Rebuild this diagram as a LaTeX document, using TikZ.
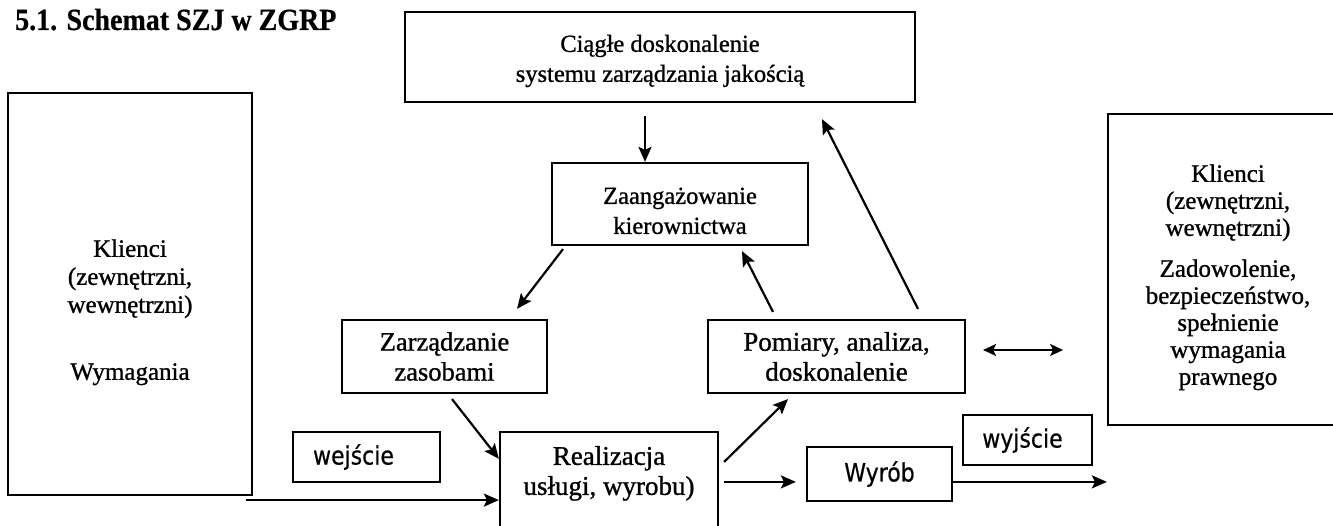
\documentclass[tikz,border=0pt]{standalone}
\usepackage{fontspec}
\setmainfont{Liberation Serif}[FakeBold=1]
\newfontfamily\titlef{Liberation Serif}[FakeBold=0.6]
\newfontfamily\sansf{DejaVu Sans}[FakeBold=0.6]
\usetikzlibrary{arrows.meta,calc}
\newcommand{\tallsans}[1]{\scalebox{1}[1.15]{#1}}
\begin{document}
\begin{tikzpicture}[x=1pt,y=-1pt,
  box/.style={draw, line width=2.2pt, inner sep=0pt, align=center, font=\fontsize{24.5}{30}\selectfont},
  sbox/.style={draw, line width=2.2pt, inner sep=0pt, font=\sansf\fontsize{22}{25}\selectfont},
  arr/.style={line width=2.2pt, -{Stealth[length=15pt,width=13pt,inset=3pt]}},
  darr/.style={line width=2.2pt, {Stealth[length=13pt,width=12pt,inset=3pt]}-{Stealth[length=13pt,width=12pt,inset=3pt]}}]
\useasboundingbox (0,0) rectangle (1333,526);
% title
\node[anchor=base west, inner sep=0pt, font=\titlef\fontsize{28}{30}\selectfont\bfseries] (title) at (15,30) {\scalebox{1}[1.1]{5.1. Schemat SZJ w ZGRP}};
% boxes
\node[box, minimum width=510pt, minimum height=90pt] (top) at (660,57)
  {\rule{0pt}{25pt}Ciągłe doskonalenie\\systemu zarządzania jakością};
\node[box, minimum width=244pt, minimum height=402pt, font=\fontsize{25}{28}\selectfont] (kl) at (130,294)
  {\rule{0pt}{54pt}Klienci\\(zewnętrzni,\\wewnętrzni)\\[39pt]Wymagania};
\node[box, minimum width=240pt, minimum height=311pt, font=\fontsize{25}{27}\selectfont] (rk) at (1228,269.5)
  {\rule{0pt}{33pt}Klienci\\(zewnętrzni,\\wewnętrzni)\\[14pt]Zadowolenie,\\bezpieczeństwo,\\spełnienie\\wymagania\\prawnego};
\node[box, minimum width=256pt, minimum height=82pt] (zaang) at (680,204)
  {\rule{0pt}{30pt}Zaangażowanie\\kierownictwa};
\node[box, minimum width=205pt, minimum height=73pt, font=\fontsize{26.5}{30}\selectfont] (zarz) at (444.5,356.5) {Zarządzanie\\zasobami};
\node[box, minimum width=257pt, minimum height=73pt, font=\fontsize{27}{30}\selectfont] (pom) at (836.5,356.5) {Pomiary, analiza,\\doskonalenie};
\node[box, minimum width=218pt, minimum height=100pt, font=\fontsize{27}{30}\selectfont] (real) at (609,482)
  {Realizacja\\usługi, wyrobu)\rule[-23pt]{0pt}{23pt}};
\node[sbox, minimum width=147pt, minimum height=50pt] (wej) at (366.5,457) {\tallsans{wejście}\hspace*{26pt}};
\node[sbox, minimum width=145pt, minimum height=54pt] (wyrob) at (879.5,474) {\tallsans{Wyrób}};
\node[sbox, minimum width=129pt, minimum height=50pt] (wyj) at (1027.5,440) {\tallsans{wyjście}\hspace*{10pt}};
% connectors
\coordinate (a1) at ($(top.south)+(-15,13)$);
\draw[arr] (a1) -- (a1 |- zaang.north);
\coordinate (a2s) at ($(zaang.south)+(-117,3)$);
\coordinate (a2e) at ($(zarz.north)+(72.5,-10)$);
\draw[arr] (a2s) -- (a2e);
\coordinate (a3s) at ($(pom.north)+(-63.5,-7)$);
\coordinate (a3e) at ($(zaang.south)+(62,5)$);
\draw[arr] (a3s) -- (a3e);
\coordinate (a4s) at ($(pom.north)+(81.5,-10)$);
\coordinate (a4e) at ($(top.south)+(162,16)$);
\draw[arr] (a4s) -- (a4e);
\coordinate (a5s) at ($(zarz.south)+(7.5,5)$);
\coordinate (a5e) at ($(real.north west)+(0,28)$);
\draw[arr] (a5s) -- (a5e);
\coordinate (a6s) at ($(kl.south east)+(-7,4)$);
\draw[arr] (a6s) -- (a6s -| real.west);
\coordinate (a7s) at ($(real.north east)+(5,31)$);
\coordinate (a7e) at ($(pom.south)+(-48.5,5)$);
\draw[arr] (a7s) -- (a7e);
\coordinate (a8s) at ($(real.north east)+(5,51)$);
\coordinate (a8e) at ($(a8s -| wyrob.west)+(-10,0)$);
\draw[arr] (a8s) -- (a8e);
\coordinate (a9s) at (a8s -| wyrob.east);
\draw[arr] (a9s) -- (a9s -| rk.west);
\coordinate (d1) at ($(pom.east)+(17,-6.5)$);
\coordinate (d2) at ($(d1)+(80,0)$);
\draw[darr] (d1) -- (d2);
\end{tikzpicture}
\end{document}
